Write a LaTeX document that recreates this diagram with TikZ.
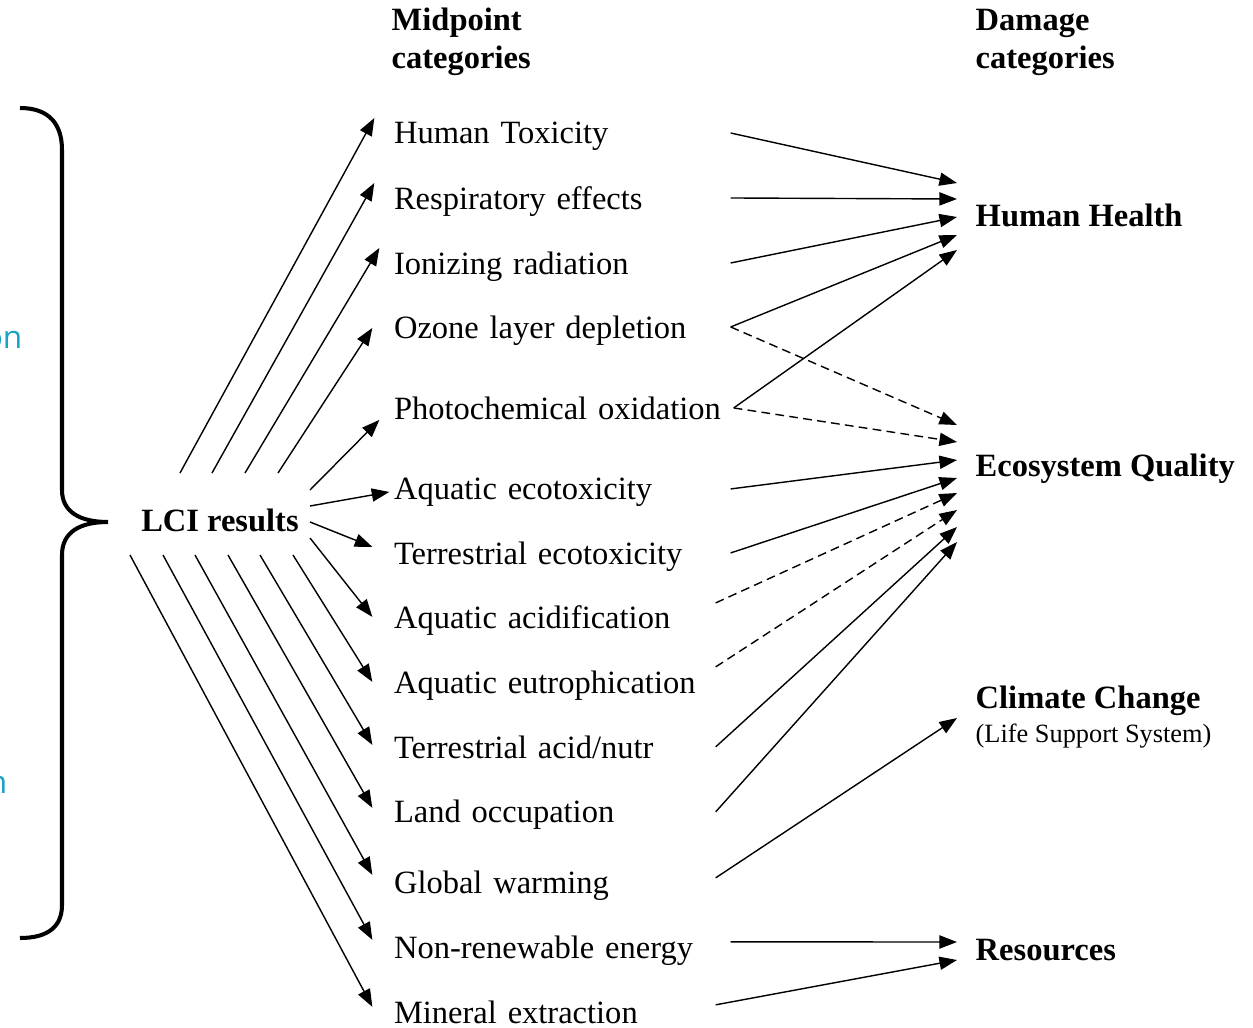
\documentclass[tikz,border=0pt]{standalone}
\usepackage{fontspec}
\setmainfont{Liberation Serif}
\newfontfamily\notefont{Open Sans}
\usetikzlibrary{arrows.meta, positioning, calc}
\newcommand{\bodysize}{\fontsize{18.5}{21.6}\selectfont}
\definecolor{noteblue}{HTML}{1BA1C4}
\tikzstyle{mid} = [text width=6.72cm, text depth=0pt, inner sep=0pt, align=left, font=\bodysize]
\tikzstyle{dmg} = [anchor=west, inner xsep=0.36cm, inner ysep=0pt, align=left, font=\bodysize\bfseries]
\tikzstyle{head} = [anchor=west, inner sep=0pt, align=left, font=\bodysize\bfseries]
\tikzstyle{weak} = [dash pattern=on 5pt off 3pt]
\tikzstyle{note} = [anchor=base east, inner sep=0pt, text=noteblue, font=\notefont\fontsize{18}{22}\selectfont]

\begin{document}
\begin{tikzpicture}[x=0.02cm,y=-0.02cm,node distance=1.3cm,>={Triangle[length=10pt,width=7.5pt]},line width=0.8pt]
  \useasboundingbox (0,0) rectangle (1253,1027);
  % column heads
  \node [head] (midhead) at (391,42) {Midpoint\\categories};
  \node [head] (dmghead) at (975,42) {Damage\\categories};
  % cut-off side notes
  \node [note] (noteA) at (23,348) {on};
  \node [note] (noteB) at (8,793) {n};
  % inventory
  \node [font=\bodysize\bfseries, inner sep=0pt] (lci) at (220,520) {LCI results};
  \draw [line width=2.3pt] (20,108) .. controls (50,108) and (62,125) .. (62,150) -- (62,490)
    .. controls (62,512) and (80,522) .. (108,522) .. controls (80,522) and (62,532) .. (62,555)
    -- (62,905) .. controls (62,925) and (50,938) .. (20,938);
  % midpoint categories
  \node [mid] (ht) at (562,133) {Human Toxicity};
  \node [mid, below of=ht] (re) {Respiratory effects};
  \node [mid, below of=re] (ir) {Ionizing radiation};
  \node [mid, below of=ir, node distance=1.28cm] (old) {Ozone layer depletion};
  \node [mid, below of=old, node distance=1.62cm] (po) {Photochemical oxidation};
  \node [mid, below of=po, node distance=1.62cm] (ae) {Aquatic ecotoxicity};
  \node [mid, below of=ae, node distance=1.28cm] (te) {Terrestrial ecotoxicity};
  \node [mid, below of=te, node distance=1.28cm] (aa) {Aquatic acidification};
  \node [mid, below of=aa] (aeu) {Aquatic eutrophication};
  \node [mid, below of=aeu] (tan) {Terrestrial acid/nutr};
  \node [mid, below of=tan, node distance=1.28cm] (lo) {Land occupation};
  \node [mid, below of=lo, node distance=1.42cm] (gw) {Global warming};
  \node [mid, below of=gw] (nre) {Non-renewable energy};
  \node [mid, below of=nre] (me) {Mineral extraction};
  % damage categories
  \node [dmg, text depth=0pt] (hh) at (957,215) {Human Health};
  \node [dmg, text depth=0pt] (eq) at (957,465) {Ecosystem Quality};
  \node [dmg] (cc) at (957,717) {Climate Change\\[-2pt]{\fontsize{15}{18}\selectfont\mdseries (Life Support System)}};
  \node [dmg, text depth=0pt] (res) at (957,950) {Resources};
  % inventory to midpoints
  \draw [->] ($(lci)+(-40,-47)$) -- ($(ht.west)+(-19,-15)$);
  \draw [->] ($(lci)+(-8,-47)$) -- ($(re.west)+(-19,-15)$);
  \draw [->] ($(lci)+(25,-47)$) -- ($(ir.west)+(-14,-15)$);
  \draw [->] ($(lci)+(58,-47)$) -- ($(old.west)+(-21,1)$);
  \draw [->] ($(lci)+(90,-30)$) -- ($(po.west)+(-14,12)$);
  \draw [->] ($(lci)+(90,-14)$) -- ($(ae.west)+(-4,3)$);
  \draw [->] ($(lci)+(90,2)$) -- ($(te.west)+(-21,-6)$);
  \draw [->] ($(lci)+(90,18)$) -- ($(aa.west)+(-21,0)$);
  \draw [->] ($(lci)+(73,35)$) -- ($(aeu.west)+(-21,0)$);
  \draw [->] ($(lci)+(40,35)$) -- ($(tan.west)+(-21,-2)$);
  \draw [->] ($(lci)+(8,35)$) -- ($(lo.west)+(-21,-3)$);
  \draw [->] ($(lci)+(-25,35)$) -- ($(gw.west)+(-21,-7)$);
  \draw [->] ($(lci)+(-57,35)$) -- ($(nre.west)+(-21,-7)$);
  \draw [->] ($(lci)+(-90,35)$) -- ($(me.west)+(-21,-5)$);
  % midpoints to damage
  \draw [->] (ht.east) -- ($(hh.west)+(0,-32)$);
  \draw [->] (re.east) -- ($(hh.west)+(0,-16)$);
  \draw [->] (ir.east) -- ($(hh.west)+(0,2)$);
  \draw [->] (old.east) -- ($(hh.west)+(0,20)$);
  \draw [->] ($(po.east)+(3,0)$) -- ($(hh.west)+(0,35)$);
  \draw [->, weak] (old.east) -- ($(eq.west)+(0,-40)$);
  \draw [->, weak] ($(po.east)+(3,0)$) -- ($(eq.west)+(0,-23)$);
  \draw [->] (ae.east) -- ($(eq.west)+(0,-5)$);
  \draw [->] (te.east) -- ($(eq.west)+(0,13)$);
  \draw [->, weak] ($(aa.east)+(-15,-14)$) -- ($(eq.west)+(0,28)$);
  \draw [->, weak] ($(aeu.east)+(-15,-15)$) -- ($(eq.west)+(0,45)$);
  \draw [->] ($(tan.east)+(-15,0)$) -- ($(eq.west)+(0,62)$);
  \draw [->] ($(lo.east)+(-15,1)$) -- ($(eq.west)+(0,77)$);
  \draw [->] ($(gw.east)+(-15,-4)$) -- ($(cc.west)+(0,1)$);
  \draw [->] ($(nre.east)+(0,-5)$) -- ($(res.west)+(0,-8)$);
  \draw [->] ($(me.east)+(-15,-7)$) -- ($(res.west)+(0,10)$);
\end{tikzpicture}
\end{document}
